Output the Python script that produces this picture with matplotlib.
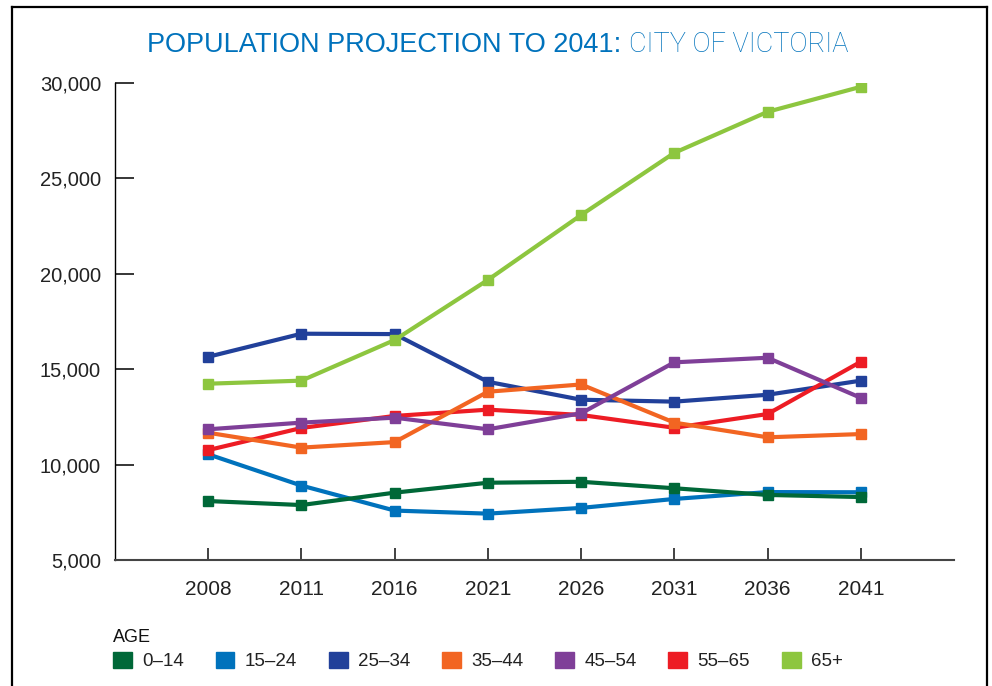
import matplotlib
matplotlib.use("Agg")
import matplotlib.pyplot as plt
from matplotlib.patches import Patch
from matplotlib.ticker import FuncFormatter

years = ["2008", "2011", "2016", "2021", "2026", "2031", "2036", "2041"]
age_groups = ["0–14", "15–24", "25–34", "35–44", "45–54", "55–65", "65+"]
colors = ["#006838", "#0072BC", "#21409A", "#F26522", "#7F3F98", "#ED1C24", "#8DC63F"]

pop_0_14 = [8090, 7880, 8530, 9050, 9100, 8760, 8410, 8300]
pop_15_24 = [10540, 8900, 7590, 7430, 7730, 8200, 8560, 8550]
pop_25_34 = [15650, 16860, 16840, 14340, 13400, 13300, 13660, 14400]
pop_35_44 = [11670, 10890, 11180, 13820, 14200, 12200, 11430, 11600]
pop_45_54 = [11850, 12200, 12460, 11850, 12690, 15360, 15600, 13500]
pop_55_65 = [10760, 11920, 12550, 12880, 12600, 11930, 12650, 15390]
pop_65_plus = [14240, 14400, 16530, 19680, 23080, 26340, 28490, 29800]

series = [pop_0_14, pop_15_24, pop_25_34, pop_35_44, pop_45_54, pop_55_65, pop_65_plus]
yticks = [5000, 10000, 15000, 20000, 25000, 30000]

FONT = ["Liberation Sans", "DejaVu Sans"]
plt.rcParams["font.family"] = FONT

fig = plt.figure(figsize=(9.92, 6.86), dpi=100)
ax = fig.add_axes([115 / 992, 1 - 560 / 686, 839 / 992, 477 / 686])

x = list(range(len(years)))
zorders = [4, 3, 5, 6, 7, 5, 8]
for vals, col, z in zip(series, colors, zorders):
    ax.plot(x, vals, color=col, lw=3.0, marker="s", ms=6.5, mec=col, mfc=col, zorder=z,
            solid_joinstyle="miter")

ax.set_xlim(-1, 8)
ax.set_ylim(5000, 30000)
ax.set_xticks(x)
ax.set_xticklabels(years)
ax.set_yticks(yticks)
ax.yaxis.set_major_formatter(FuncFormatter(lambda v, p: f"{int(v):,}"))

for s in ["top", "right"]:
    ax.spines[s].set_visible(False)
ax.spines["left"].set_color("black")
ax.spines["left"].set_linewidth(1.0)
ax.spines["bottom"].set_color("#444444")
ax.spines["bottom"].set_linewidth(1.5)

ax.tick_params(axis="y", direction="in", length=13.5, width=1.1, color="black",
               labelsize=14.5, pad=10, labelcolor="#222222")
ax.tick_params(axis="x", direction="in", length=8.5, width=1.3, color="#333333",
               labelsize=15, pad=14.5, labelcolor="#222222")

# Title in two weights
title_col = "#0072BC"
renderer = fig.canvas.get_renderer()
t1 = fig.text(0, 0, "POPULATION PROJECTION TO 2041: ", fontsize=19.5, color=title_col,
              family=FONT, va="baseline", ha="left")
t2 = fig.text(0, 0, "CITY OF VICTORIA", fontsize=19.5, color=title_col,
              family=["Roboto", "Liberation Sans", "DejaVu Sans"], weight="light",
              va="baseline", ha="left")
w1 = t1.get_window_extent(renderer).width
w2 = t2.get_window_extent(renderer).width
start = 498 - (w1 + w2) / 2
base_y = 1 - 52 / 686
t1.set_position((start / 992, base_y))
t2.set_position(((start + w1) / 992, base_y))

# Legend
handles = [Patch(facecolor=c, edgecolor=c) for c in colors]
leg = fig.legend(handles, age_groups, title="AGE", ncol=7, frameon=False,
                 loc="upper left", bbox_to_anchor=(113 / 992, 1 - 629 / 686),
                 fontsize=13.5, title_fontsize=13, handlelength=1.0, handleheight=1.0,
                 handletextpad=0.55, columnspacing=1.7, borderpad=0, borderaxespad=0,
                 labelspacing=0.3, alignment="left")
for t in leg.get_texts():
    t.set_color("#222222")
leg.get_title().set_color("#111111")

# Outer frame (left, top, right)
fig.add_artist(plt.Line2D([12 / 992, 12 / 992], [0, 1 - 7 / 686], color="black", lw=1.6,
                          transform=fig.transFigure))
fig.add_artist(plt.Line2D([12 / 992, 987 / 992], [1 - 7 / 686, 1 - 7 / 686], color="black",
                          lw=1.6, transform=fig.transFigure))
fig.add_artist(plt.Line2D([987 / 992, 987 / 992], [0, 1 - 7 / 686], color="black", lw=1.6,
                          transform=fig.transFigure))

fig.savefig("out.png", dpi=100)
